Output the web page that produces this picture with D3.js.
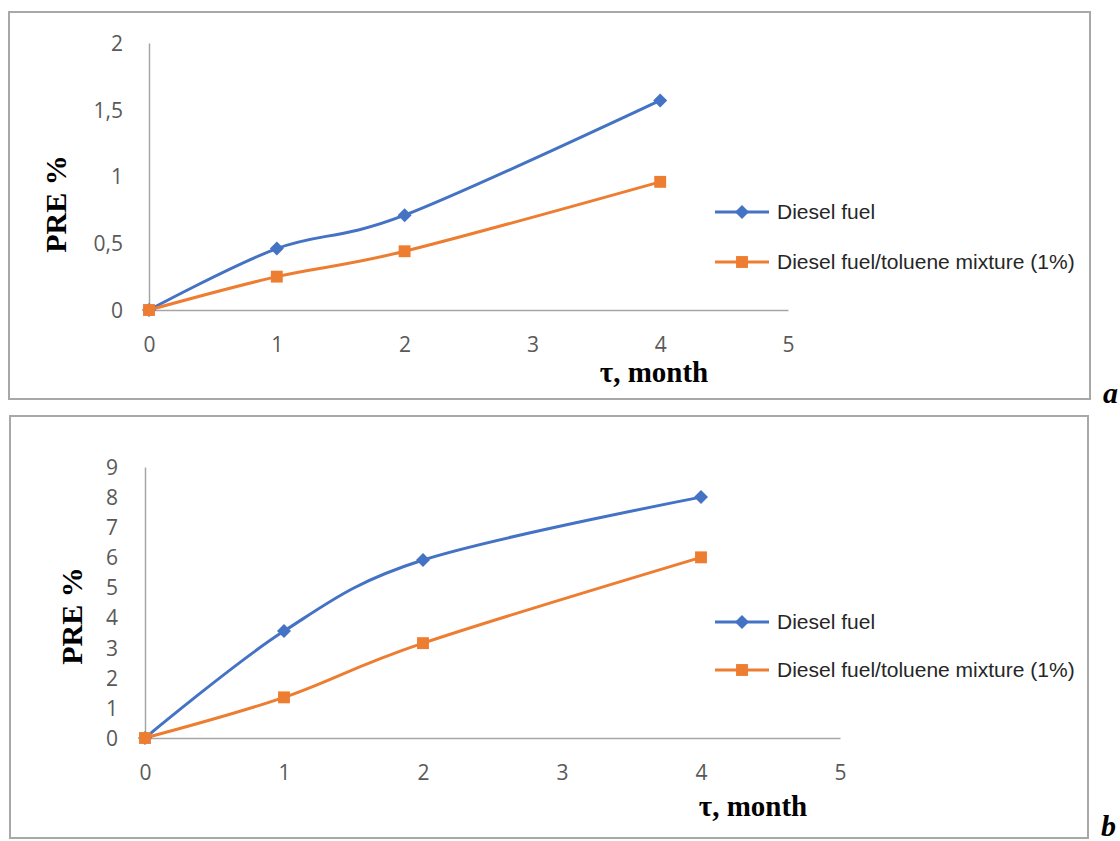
<!DOCTYPE html>
<html>
<head>
<meta charset="utf-8">
<script src="https://cdn.jsdelivr.net/npm/d3@7"></script>
<style>
  html, body { margin: 0; padding: 0; background: #fff; }
  svg { display: block; }
  .tick text { font-family: 'Open Sans', sans-serif; font-size: 21px; fill: #595959; }
  .axis path { stroke: #a6a6a6; stroke-width: 1.5; }
  .legend text { font-family: 'Liberation Sans', Arial, sans-serif; font-size: 21px; fill: #262626; }
  .title { font-family: 'Liberation Serif', 'Times New Roman', serif; font-weight: bold; fill: #000; }
</style>
</head>
<body>
<script>
// data
const months = [0, 1, 2, 4];
const seriesNames = ['Diesel fuel', 'Diesel fuel/toluene mixture (1%)'];
const dieselA = [0, 0.46, 0.71, 1.57];
const mixtureA = [0, 0.25, 0.44, 0.96];
const dieselB = [0, 3.55, 5.91, 8.0];
const mixtureB = [0, 1.35, 3.15, 6.0];
const xTicks = [0, 1, 2, 3, 4, 5];
const yTicksA = [0, 0.5, 1, 1.5, 2];
const yTicksB = [0, 1, 2, 3, 4, 5, 6, 7, 8, 9];

const colors = ['#4472c4', '#ed7d31'];

const svg = d3.select('body').append('svg')
  .attr('width', 1120)
  .attr('height', 841);

const panels = [
  {
    letter: 'a', series: [dieselA, mixtureA], yTicks: yTicksA, yMax: 2,
    box: {x: 9, y: 12, w: 1081, h: 387},
    left: 149, right: 788, top: 43, bottom: 310, labelRight: 123,
    xTitle: {x: 654, y: 382}, yTitle: {x: 66, y: 204},
    legend: {x: 715, y: [212, 262]},
    letterPos: {x: 1103, y: 403}
  },
  {
    letter: 'b', series: [dieselB, mixtureB], yTicks: yTicksB, yMax: 9,
    box: {x: 10, y: 416, w: 1078, h: 422},
    left: 145, right: 840, top: 467, bottom: 738, labelRight: 118,
    xTitle: {x: 753, y: 816}, yTitle: {x: 82, y: 616},
    legend: {x: 715, y: [622, 670]},
    letterPos: {x: 1101, y: 836}
  }
];

const fmt = d => String(d).replace('.', ',');

panels.forEach(p => {
  const g = svg.append('g');

  g.append('rect')
    .attr('x', p.box.x).attr('y', p.box.y)
    .attr('width', p.box.w).attr('height', p.box.h)
    .attr('fill', 'none')
    .attr('stroke', '#a8a8a8')
    .attr('stroke-width', 2);

  const x = d3.scaleLinear().domain([0, 5]).range([p.left, p.right]);
  const y = d3.scaleLinear().domain([0, p.yMax]).range([p.bottom, p.top]);

  const xAxis = g.append('g')
    .attr('class', 'axis')
    .attr('transform', `translate(0,${p.bottom})`)
    .call(d3.axisBottom(x).tickValues(xTicks).tickSize(0).tickFormat(fmt));
  xAxis.selectAll('text').attr('y', 35).attr('dy', '0.35em');

  const yAxis = g.append('g')
    .attr('class', 'axis')
    .attr('transform', `translate(${p.left},0)`)
    .call(d3.axisLeft(y).tickValues(p.yTicks).tickSize(0).tickFormat(fmt));
  yAxis.selectAll('text').attr('x', p.labelRight - p.left).attr('dy', '0.35em');

  const line = d3.line()
    .x((d, i) => x(months[i]))
    .y(d => y(d))
    .curve(d3.curveCardinal.tension(0));

  p.series.forEach((vals, s) => {
    g.append('path')
      .datum(vals)
      .attr('d', line)
      .attr('fill', 'none')
      .attr('stroke', colors[s])
      .attr('stroke-width', 3);
  });

  // markers: diamonds for diesel, squares for the mixture
  const symbolFor = s => d3.symbol()
    .type(s === 0 ? d3.symbolDiamond2 : d3.symbolSquare2)
    .size(s === 0 ? 125 : 180);

  p.series.forEach((vals, s) => {
    g.selectAll(null)
      .data(vals)
      .join('path')
      .attr('transform', (d, i) => `translate(${x(months[i])},${y(d)})`)
      .attr('d', symbolFor(s))
      .attr('fill', colors[s]);
  });

  // legend
  const lg = g.append('g').attr('class', 'legend');
  seriesNames.forEach((name, s) => {
    const ly = p.legend.y[s];
    lg.append('line')
      .attr('x1', p.legend.x).attr('x2', p.legend.x + 54)
      .attr('y1', ly).attr('y2', ly)
      .attr('stroke', colors[s]).attr('stroke-width', 3);
    lg.append('path')
      .attr('transform', `translate(${p.legend.x + 27},${ly})`)
      .attr('d', symbolFor(s))
      .attr('fill', colors[s]);
    lg.append('text')
      .attr('x', p.legend.x + 62)
      .attr('y', ly)
      .attr('dy', '0.35em')
      .text(name);
  });

  g.append('text')
    .attr('class', 'title')
    .attr('x', p.xTitle.x).attr('y', p.xTitle.y)
    .attr('text-anchor', 'middle')
    .attr('font-size', 29)
    .text('τ, month');

  g.append('text')
    .attr('class', 'title')
    .attr('transform', `translate(${p.yTitle.x},${p.yTitle.y}) rotate(-90)`)
    .attr('text-anchor', 'middle')
    .attr('font-size', 30)
    .text('PRE %');

  g.append('text')
    .attr('class', 'title')
    .attr('x', p.letterPos.x).attr('y', p.letterPos.y)
    .attr('font-size', 30)
    .attr('font-style', 'italic')
    .text(p.letter);
});
</script>
</body>
</html>
